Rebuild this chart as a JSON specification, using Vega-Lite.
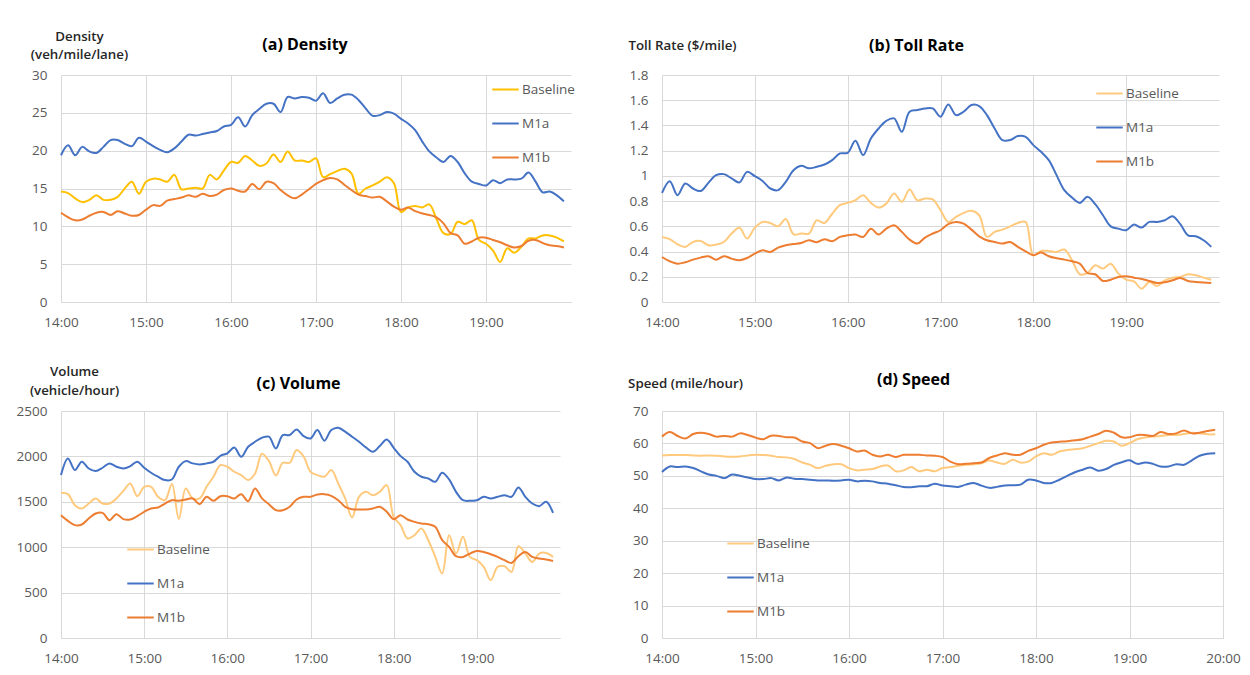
{
"$schema": "https://vega.github.io/schema/vega-lite/v6.json",
"background": "white",
"padding": {"left": 16, "top": 29, "right": 5, "bottom": 5},
"data": {"format": {"parse": {"time": "date:'%H:%M'"}}, "values": [
{"series":"Baseline","time":"14:00","density":14.6,"toll":0.516,"volume":1599,"speed":56.3},
{"series":"Baseline","time":"14:05","density":14.4,"toll":0.498,"volume":1584,"speed":56.4},
{"series":"Baseline","time":"14:10","density":13.7,"toll":0.458,"volume":1463,"speed":56.4},
{"series":"Baseline","time":"14:15","density":13.2,"toll":0.437,"volume":1426,"speed":56.4},
{"series":"Baseline","time":"14:20","density":13.5,"toll":0.476,"volume":1481,"speed":56.3},
{"series":"Baseline","time":"14:25","density":14.1,"toll":0.484,"volume":1537,"speed":56.2},
{"series":"Baseline","time":"14:30","density":13.5,"toll":0.45,"volume":1481,"speed":56.3},
{"series":"Baseline","time":"14:35","density":13.5,"toll":0.455,"volume":1481,"speed":56.2},
{"series":"Baseline","time":"14:40","density":13.9,"toll":0.476,"volume":1537,"speed":56.0},
{"series":"Baseline","time":"14:45","density":15.0,"toll":0.543,"volume":1621,"speed":55.9},
{"series":"Baseline","time":"14:50","density":15.9,"toll":0.588,"volume":1702,"speed":56.0},
{"series":"Baseline","time":"14:55","density":14.3,"toll":0.503,"volume":1562,"speed":56.3},
{"series":"Baseline","time":"15:00","density":15.9,"toll":0.59,"volume":1665,"speed":56.5},
{"series":"Baseline","time":"15:05","density":16.3,"toll":0.635,"volume":1665,"speed":56.4},
{"series":"Baseline","time":"15:10","density":16.2,"toll":0.627,"volume":1555,"speed":56.2},
{"series":"Baseline","time":"15:15","density":15.9,"toll":0.60,"volume":1518,"speed":55.8},
{"series":"Baseline","time":"15:20","density":16.8,"toll":0.659,"volume":1695,"speed":55.7},
{"series":"Baseline","time":"15:25","density":14.9,"toll":0.537,"volume":1310,"speed":55.2},
{"series":"Baseline","time":"15:30","density":15.0,"toll":0.543,"volume":1647,"speed":54.1},
{"series":"Baseline","time":"15:35","density":15.1,"toll":0.543,"volume":1537,"speed":53.4},
{"series":"Baseline","time":"15:40","density":15.0,"toll":0.648,"volume":1537,"speed":52.4},
{"series":"Baseline","time":"15:45","density":16.8,"toll":0.627,"volume":1665,"speed":53.1},
{"series":"Baseline","time":"15:50","density":16.2,"toll":0.70,"volume":1776,"speed":53.6},
{"series":"Baseline","time":"15:55","density":17.4,"toll":0.768,"volume":1904,"speed":53.6},
{"series":"Baseline","time":"16:00","density":18.5,"toll":0.786,"volume":1886,"speed":52.4},
{"series":"Baseline","time":"16:05","density":18.4,"toll":0.807,"volume":1831,"speed":51.7},
{"series":"Baseline","time":"16:10","density":19.3,"toll":0.847,"volume":1794,"speed":51.9},
{"series":"Baseline","time":"16:15","density":18.7,"toll":0.786,"volume":1739,"speed":52.1},
{"series":"Baseline","time":"16:20","density":18.0,"toll":0.749,"volume":1812,"speed":52.9},
{"series":"Baseline","time":"16:25","density":18.3,"toll":0.78,"volume":2030,"speed":53.2},
{"series":"Baseline","time":"16:30","density":19.5,"toll":0.86,"volume":1950,"speed":51.4},
{"series":"Baseline","time":"16:35","density":18.5,"toll":0.794,"volume":1790,"speed":51.7},
{"series":"Baseline","time":"16:40","density":19.9,"toll":0.892,"volume":1930,"speed":52.7},
{"series":"Baseline","time":"16:45","density":18.7,"toll":0.807,"volume":1930,"speed":51.4},
{"series":"Baseline","time":"16:50","density":18.7,"toll":0.82,"volume":2070,"speed":51.9},
{"series":"Baseline","time":"16:55","density":18.5,"toll":0.813,"volume":2000,"speed":51.4},
{"series":"Baseline","time":"17:00","density":19.0,"toll":0.728,"volume":1831,"speed":52.4},
{"series":"Baseline","time":"17:05","density":16.5,"toll":0.635,"volume":1794,"speed":52.7},
{"series":"Baseline","time":"17:10","density":16.9,"toll":0.675,"volume":1776,"speed":53.1},
{"series":"Baseline","time":"17:15","density":17.3,"toll":0.707,"volume":1849,"speed":53.4},
{"series":"Baseline","time":"17:20","density":17.6,"toll":0.723,"volume":1702,"speed":53.6},
{"series":"Baseline","time":"17:25","density":17.0,"toll":0.688,"volume":1537,"speed":53.9},
{"series":"Baseline","time":"17:30","density":14.3,"toll":0.516,"volume":1327,"speed":54.7},
{"series":"Baseline","time":"17:35","density":15.0,"toll":0.556,"volume":1555,"speed":54.1},
{"series":"Baseline","time":"17:40","density":15.4,"toll":0.574,"volume":1610,"speed":53.7},
{"series":"Baseline","time":"17:45","density":15.9,"toll":0.60,"volume":1573,"speed":55.0},
{"series":"Baseline","time":"17:50","density":16.5,"toll":0.627,"volume":1610,"speed":54.1},
{"series":"Baseline","time":"17:55","density":15.7,"toll":0.635,"volume":1684,"speed":54.4},
{"series":"Baseline","time":"18:00","density":11.9,"toll":0.371,"volume":1334,"speed":56.0},
{"series":"Baseline","time":"18:05","density":12.5,"toll":0.405,"volume":1243,"speed":57.0},
{"series":"Baseline","time":"18:10","density":12.7,"toll":0.405,"volume":1096,"speed":56.5},
{"series":"Baseline","time":"18:15","density":12.5,"toll":0.397,"volume":1132,"speed":57.5},
{"series":"Baseline","time":"18:20","density":12.9,"toll":0.416,"volume":1206,"speed":58.0},
{"series":"Baseline","time":"18:25","density":11.0,"toll":0.331,"volume":1077,"speed":58.2},
{"series":"Baseline","time":"18:30","density":9.1,"toll":0.22,"volume":893,"speed":58.5},
{"series":"Baseline","time":"18:35","density":9.0,"toll":0.23,"volume":709,"speed":59.3},
{"series":"Baseline","time":"18:40","density":10.6,"toll":0.291,"volume":1132,"speed":60.1},
{"series":"Baseline","time":"18:45","density":10.3,"toll":0.265,"volume":930,"speed":60.8},
{"series":"Baseline","time":"18:50","density":10.8,"toll":0.304,"volume":1114,"speed":60.6},
{"series":"Baseline","time":"18:55","density":8.2,"toll":0.225,"volume":893,"speed":59.3},
{"series":"Baseline","time":"19:00","density":7.7,"toll":0.177,"volume":857,"speed":60.1},
{"series":"Baseline","time":"19:05","density":6.8,"toll":0.164,"volume":783,"speed":61.3},
{"series":"Baseline","time":"19:10","density":5.3,"toll":0.106,"volume":636,"speed":61.8},
{"series":"Baseline","time":"19:15","density":7.1,"toll":0.159,"volume":783,"speed":62.1},
{"series":"Baseline","time":"19:20","density":6.5,"toll":0.127,"volume":790,"speed":62.3},
{"series":"Baseline","time":"19:25","density":7.3,"toll":0.172,"volume":728,"speed":62.6},
{"series":"Baseline","time":"19:30","density":8.4,"toll":0.193,"volume":1011,"speed":62.6},
{"series":"Baseline","time":"19:35","density":8.4,"toll":0.199,"volume":930,"speed":62.9},
{"series":"Baseline","time":"19:40","density":8.8,"toll":0.22,"volume":838,"speed":63.3},
{"series":"Baseline","time":"19:45","density":8.8,"toll":0.212,"volume":930,"speed":63.1},
{"series":"Baseline","time":"19:50","density":8.5,"toll":0.193,"volume":937,"speed":62.8},
{"series":"Baseline","time":"19:55","density":8.0,"toll":0.177,"volume":893,"speed":62.8},
{"series":"M1a","time":"14:00","density":19.4,"toll":0.866,"volume":1794,"speed":51.2},
{"series":"M1a","time":"14:05","density":20.7,"toll":0.958,"volume":1978,"speed":52.9},
{"series":"M1a","time":"14:10","density":19.4,"toll":0.847,"volume":1849,"speed":52.7},
{"series":"M1a","time":"14:15","density":20.5,"toll":0.94,"volume":1941,"speed":52.9},
{"series":"M1a","time":"14:20","density":19.9,"toll":0.90,"volume":1867,"speed":52.4},
{"series":"M1a","time":"14:25","density":19.7,"toll":0.88,"volume":1838,"speed":51.4},
{"series":"M1a","time":"14:30","density":20.5,"toll":0.945,"volume":1875,"speed":50.4},
{"series":"M1a","time":"14:35","density":21.4,"toll":1.006,"volume":1923,"speed":50.0},
{"series":"M1a","time":"14:40","density":21.4,"toll":1.014,"volume":1886,"speed":49.3},
{"series":"M1a","time":"14:45","density":20.9,"toll":0.98,"volume":1867,"speed":50.4},
{"series":"M1a","time":"14:50","density":20.6,"toll":0.948,"volume":1893,"speed":50.0},
{"series":"M1a","time":"14:55","density":21.7,"toll":1.032,"volume":1941,"speed":49.5},
{"series":"M1a","time":"15:00","density":21.2,"toll":0.998,"volume":1875,"speed":49.0},
{"series":"M1a","time":"15:05","density":20.6,"toll":0.96,"volume":1820,"speed":49.0},
{"series":"M1a","time":"15:10","density":20.1,"toll":0.90,"volume":1776,"speed":49.3},
{"series":"M1a","time":"15:15","density":19.8,"toll":0.887,"volume":1739,"speed":48.6},
{"series":"M1a","time":"15:20","density":20.3,"toll":0.953,"volume":1746,"speed":49.5},
{"series":"M1a","time":"15:25","density":21.2,"toll":1.045,"volume":1886,"speed":49.1},
{"series":"M1a","time":"15:30","density":22.1,"toll":1.08,"volume":1948,"speed":49.0},
{"series":"M1a","time":"15:35","density":22.0,"toll":1.06,"volume":1923,"speed":48.8},
{"series":"M1a","time":"15:40","density":22.2,"toll":1.072,"volume":1911,"speed":48.6},
{"series":"M1a","time":"15:45","density":22.4,"toll":1.09,"volume":1923,"speed":48.6},
{"series":"M1a","time":"15:50","density":22.6,"toll":1.125,"volume":1941,"speed":48.5},
{"series":"M1a","time":"15:55","density":23.2,"toll":1.178,"volume":2007,"speed":48.6},
{"series":"M1a","time":"16:00","density":23.4,"toll":1.183,"volume":2033,"speed":48.8},
{"series":"M1a","time":"16:05","density":24.4,"toll":1.278,"volume":2099,"speed":48.3},
{"series":"M1a","time":"16:10","density":23.2,"toll":1.165,"volume":1996,"speed":48.5},
{"series":"M1a","time":"16:15","density":24.7,"toll":1.297,"volume":2106,"speed":48.3},
{"series":"M1a","time":"16:20","density":25.5,"toll":1.376,"volume":2161,"speed":47.8},
{"series":"M1a","time":"16:25","density":26.2,"toll":1.437,"volume":2206,"speed":47.6},
{"series":"M1a","time":"16:30","density":26.2,"toll":1.456,"volume":2217,"speed":47.1},
{"series":"M1a","time":"16:35","density":25.1,"toll":1.35,"volume":2088,"speed":46.6},
{"series":"M1a","time":"16:40","density":27.1,"toll":1.509,"volume":2235,"speed":46.5},
{"series":"M1a","time":"16:45","density":26.9,"toll":1.522,"volume":2235,"speed":46.8},
{"series":"M1a","time":"16:50","density":27.1,"toll":1.535,"volume":2297,"speed":46.8},
{"series":"M1a","time":"16:55","density":27.0,"toll":1.535,"volume":2224,"speed":47.6},
{"series":"M1a","time":"17:00","density":26.6,"toll":1.469,"volume":2198,"speed":47.0},
{"series":"M1a","time":"17:05","density":27.6,"toll":1.567,"volume":2290,"speed":46.8},
{"series":"M1a","time":"17:10","density":26.3,"toll":1.482,"volume":2173,"speed":46.6},
{"series":"M1a","time":"17:15","density":26.9,"toll":1.509,"volume":2290,"speed":47.3},
{"series":"M1a","time":"17:20","density":27.4,"toll":1.562,"volume":2316,"speed":47.8},
{"series":"M1a","time":"17:25","density":27.4,"toll":1.554,"volume":2272,"speed":47.0},
{"series":"M1a","time":"17:30","density":26.7,"toll":1.482,"volume":2217,"speed":46.3},
{"series":"M1a","time":"17:35","density":25.6,"toll":1.376,"volume":2161,"speed":46.6},
{"series":"M1a","time":"17:40","density":24.6,"toll":1.284,"volume":2099,"speed":47.0},
{"series":"M1a","time":"17:45","density":24.7,"toll":1.284,"volume":2051,"speed":47.1},
{"series":"M1a","time":"17:50","density":25.1,"toll":1.316,"volume":2114,"speed":47.3},
{"series":"M1a","time":"17:55","density":24.9,"toll":1.31,"volume":2187,"speed":48.8},
{"series":"M1a","time":"18:00","density":24.2,"toll":1.244,"volume":2095,"speed":48.6},
{"series":"M1a","time":"18:05","density":23.6,"toll":1.191,"volume":2003,"speed":47.8},
{"series":"M1a","time":"18:10","density":22.7,"toll":1.125,"volume":1941,"speed":47.8},
{"series":"M1a","time":"18:15","density":21.2,"toll":1.006,"volume":1831,"speed":48.8},
{"series":"M1a","time":"18:20","density":19.9,"toll":0.887,"volume":1776,"speed":50.0},
{"series":"M1a","time":"18:25","density":19.1,"toll":0.828,"volume":1757,"speed":51.1},
{"series":"M1a","time":"18:30","density":18.5,"toll":0.786,"volume":1720,"speed":51.9},
{"series":"M1a","time":"18:35","density":19.3,"toll":0.834,"volume":1820,"speed":52.6},
{"series":"M1a","time":"18:40","density":18.5,"toll":0.776,"volume":1746,"speed":51.6},
{"series":"M1a","time":"18:45","density":17.0,"toll":0.688,"volume":1610,"speed":52.1},
{"series":"M1a","time":"18:50","density":15.9,"toll":0.60,"volume":1518,"speed":53.4},
{"series":"M1a","time":"18:55","density":15.6,"toll":0.582,"volume":1511,"speed":54.2},
{"series":"M1a","time":"19:00","density":15.4,"toll":0.569,"volume":1518,"speed":54.8},
{"series":"M1a","time":"19:05","density":16.1,"toll":0.614,"volume":1555,"speed":53.7},
{"series":"M1a","time":"19:10","density":15.7,"toll":0.59,"volume":1537,"speed":54.1},
{"series":"M1a","time":"19:15","density":16.2,"toll":0.635,"volume":1555,"speed":53.7},
{"series":"M1a","time":"19:20","density":16.2,"toll":0.635,"volume":1573,"speed":52.9},
{"series":"M1a","time":"19:25","density":16.3,"toll":0.648,"volume":1555,"speed":52.9},
{"series":"M1a","time":"19:30","density":17.1,"toll":0.68,"volume":1658,"speed":53.6},
{"series":"M1a","time":"19:35","density":15.9,"toll":0.617,"volume":1555,"speed":53.4},
{"series":"M1a","time":"19:40","density":14.5,"toll":0.529,"volume":1481,"speed":54.8},
{"series":"M1a","time":"19:45","density":14.6,"toll":0.521,"volume":1452,"speed":56.2},
{"series":"M1a","time":"19:50","density":14.1,"toll":0.49,"volume":1500,"speed":56.8},
{"series":"M1a","time":"19:55","density":13.3,"toll":0.437,"volume":1378,"speed":57.0},
{"series":"M1b","time":"14:00","density":11.8,"toll":0.357,"volume":1353,"speed":62.1},
{"series":"M1b","time":"14:05","density":11.2,"toll":0.323,"volume":1290,"speed":63.5},
{"series":"M1b","time":"14:10","density":10.8,"toll":0.304,"volume":1243,"speed":62.3},
{"series":"M1b","time":"14:15","density":10.9,"toll":0.315,"volume":1250,"speed":61.5},
{"series":"M1b","time":"14:20","density":11.4,"toll":0.336,"volume":1316,"speed":62.9},
{"series":"M1b","time":"14:25","density":11.8,"toll":0.352,"volume":1371,"speed":63.3},
{"series":"M1b","time":"14:30","density":11.9,"toll":0.363,"volume":1378,"speed":62.9},
{"series":"M1b","time":"14:35","density":11.5,"toll":0.336,"volume":1298,"speed":62.1},
{"series":"M1b","time":"14:40","density":12.0,"toll":0.363,"volume":1364,"speed":62.3},
{"series":"M1b","time":"14:45","density":11.7,"toll":0.344,"volume":1309,"speed":62.1},
{"series":"M1b","time":"14:50","density":11.4,"toll":0.331,"volume":1305,"speed":63.1},
{"series":"M1b","time":"14:55","density":11.5,"toll":0.349,"volume":1342,"speed":62.6},
{"series":"M1b","time":"15:00","density":12.2,"toll":0.384,"volume":1390,"speed":61.8},
{"series":"M1b","time":"15:05","density":12.8,"toll":0.41,"volume":1426,"speed":61.3},
{"series":"M1b","time":"15:10","density":12.7,"toll":0.397,"volume":1437,"speed":62.4},
{"series":"M1b","time":"15:15","density":13.4,"toll":0.431,"volume":1481,"speed":62.3},
{"series":"M1b","time":"15:20","density":13.6,"toll":0.45,"volume":1518,"speed":61.9},
{"series":"M1b","time":"15:25","density":13.8,"toll":0.46,"volume":1511,"speed":61.8},
{"series":"M1b","time":"15:30","density":14.1,"toll":0.468,"volume":1525,"speed":60.6},
{"series":"M1b","time":"15:35","density":13.9,"toll":0.49,"volume":1537,"speed":60.1},
{"series":"M1b","time":"15:40","density":14.3,"toll":0.474,"volume":1474,"speed":58.5},
{"series":"M1b","time":"15:45","density":14.0,"toll":0.498,"volume":1555,"speed":59.3},
{"series":"M1b","time":"15:50","density":14.2,"toll":0.482,"volume":1511,"speed":59.8},
{"series":"M1b","time":"15:55","density":14.8,"toll":0.516,"volume":1562,"speed":59.3},
{"series":"M1b","time":"16:00","density":15.0,"toll":0.529,"volume":1562,"speed":58.5},
{"series":"M1b","time":"16:05","density":14.7,"toll":0.535,"volume":1537,"speed":57.5},
{"series":"M1b","time":"16:10","density":14.6,"toll":0.516,"volume":1584,"speed":57.8},
{"series":"M1b","time":"16:15","density":15.6,"toll":0.58,"volume":1507,"speed":56.5},
{"series":"M1b","time":"16:20","density":14.9,"toll":0.535,"volume":1647,"speed":56.0},
{"series":"M1b","time":"16:25","density":15.9,"toll":0.582,"volume":1537,"speed":56.5},
{"series":"M1b","time":"16:30","density":15.7,"toll":0.609,"volume":1474,"speed":55.8},
{"series":"M1b","time":"16:35","density":14.8,"toll":0.556,"volume":1408,"speed":56.5},
{"series":"M1b","time":"16:40","density":14.1,"toll":0.495,"volume":1408,"speed":56.5},
{"series":"M1b","time":"16:45","density":13.7,"toll":0.463,"volume":1445,"speed":56.5},
{"series":"M1b","time":"16:50","density":14.2,"toll":0.511,"volume":1525,"speed":56.3},
{"series":"M1b","time":"16:55","density":14.9,"toll":0.543,"volume":1555,"speed":56.2},
{"series":"M1b","time":"17:00","density":15.6,"toll":0.569,"volume":1555,"speed":55.8},
{"series":"M1b","time":"17:05","density":16.1,"toll":0.617,"volume":1580,"speed":54.4},
{"series":"M1b","time":"17:10","density":16.4,"toll":0.635,"volume":1584,"speed":53.6},
{"series":"M1b","time":"17:15","density":16.2,"toll":0.622,"volume":1566,"speed":53.7},
{"series":"M1b","time":"17:20","density":15.5,"toll":0.574,"volume":1518,"speed":53.9},
{"series":"M1b","time":"17:25","density":14.8,"toll":0.521,"volume":1445,"speed":54.1},
{"series":"M1b","time":"17:30","density":14.2,"toll":0.49,"volume":1419,"speed":55.5},
{"series":"M1b","time":"17:35","density":14.0,"toll":0.476,"volume":1415,"speed":56.3},
{"series":"M1b","time":"17:40","density":13.8,"toll":0.463,"volume":1415,"speed":57.0},
{"series":"M1b","time":"17:45","density":13.9,"toll":0.476,"volume":1426,"speed":56.5},
{"series":"M1b","time":"17:50","density":13.3,"toll":0.437,"volume":1445,"speed":56.5},
{"series":"M1b","time":"17:55","density":12.6,"toll":0.402,"volume":1390,"speed":57.7},
{"series":"M1b","time":"18:00","density":12.2,"toll":0.371,"volume":1309,"speed":58.5},
{"series":"M1b","time":"18:05","density":12.5,"toll":0.392,"volume":1353,"speed":59.6},
{"series":"M1b","time":"18:10","density":12.0,"toll":0.363,"volume":1305,"speed":60.3},
{"series":"M1b","time":"18:15","density":11.7,"toll":0.347,"volume":1279,"speed":60.5},
{"series":"M1b","time":"18:20","density":11.5,"toll":0.336,"volume":1261,"speed":60.7},
{"series":"M1b","time":"18:25","density":11.2,"toll":0.323,"volume":1253,"speed":61.0},
{"series":"M1b","time":"18:30","density":10.4,"toll":0.304,"volume":1224,"speed":61.3},
{"series":"M1b","time":"18:35","density":9.1,"toll":0.23,"volume":1077,"speed":62.1},
{"series":"M1b","time":"18:40","density":8.8,"toll":0.22,"volume":1004,"speed":62.9},
{"series":"M1b","time":"18:45","density":7.7,"toll":0.167,"volume":901,"speed":63.9},
{"series":"M1b","time":"18:50","density":8.0,"toll":0.177,"volume":893,"speed":63.3},
{"series":"M1b","time":"18:55","density":8.5,"toll":0.199,"volume":930,"speed":61.9},
{"series":"M1b","time":"19:00","density":8.5,"toll":0.204,"volume":959,"speed":61.9},
{"series":"M1b","time":"19:05","density":8.2,"toll":0.193,"volume":948,"speed":62.6},
{"series":"M1b","time":"19:10","density":7.9,"toll":0.183,"volume":923,"speed":62.6},
{"series":"M1b","time":"19:15","density":7.5,"toll":0.167,"volume":893,"speed":62.3},
{"series":"M1b","time":"19:20","density":7.2,"toll":0.151,"volume":857,"speed":63.5},
{"series":"M1b","time":"19:25","density":7.4,"toll":0.156,"volume":827,"speed":62.9},
{"series":"M1b","time":"19:30","density":8.1,"toll":0.172,"volume":901,"speed":63.1},
{"series":"M1b","time":"19:35","density":8.2,"toll":0.191,"volume":948,"speed":64.0},
{"series":"M1b","time":"19:40","density":7.8,"toll":0.167,"volume":893,"speed":63.1},
{"series":"M1b","time":"19:45","density":7.5,"toll":0.159,"volume":875,"speed":63.3},
{"series":"M1b","time":"19:50","density":7.4,"toll":0.154,"volume":864,"speed":63.8},
{"series":"M1b","time":"19:55","density":7.2,"toll":0.151,"volume":849,"speed":64.2}
]},
"columns": 2,
"bounds": "flush",
"spacing": {"row": 109, "column": 91},
"resolve": {"scale": {"color": "independent"}, "legend": {"color": "independent"}},
"concat": [
{
 "width": 510, "height": 227,
 "title": {"text": "(a)  Density", "anchor": "middle", "dx": -11, "dy": 28},
 "mark": {"type": "line", "interpolate": "catmull-rom", "strokeWidth": 2},
 "encoding": {
  "x": {"field": "time", "type": "temporal",
        "scale": {"domain": [{"year": 1900, "month": 1, "date": 1, "hours": 14}, {"year": 1900, "month": 1, "date": 1, "hours": 20}], "nice": false},
        "axis": {"title": null, "format": "%H:%M", "values": [{"year": 1900, "month": 1, "date": 1, "hours": 14}, {"year": 1900, "month": 1, "date": 1, "hours": 15}, {"year": 1900, "month": 1, "date": 1, "hours": 16}, {"year": 1900, "month": 1, "date": 1, "hours": 17}, {"year": 1900, "month": 1, "date": 1, "hours": 18}, {"year": 1900, "month": 1, "date": 1, "hours": 19}]}},
  "y": {"field": "density", "type": "quantitative",
        "scale": {"domain": [0, 30], "nice": false},
        "axis": {"values": [0, 5, 10, 15, 20, 25, 30], "title": ["Density", "(veh/mile/lane)"], "titleAngle": 0, "titleAlign": "center", "titleBaseline": "alphabetic", "titleX": 18, "titleY": -35, "titleLineHeight": 18.5}},
  "color": {"field": "series", "type": "nominal",
        "scale": {"domain": ["Baseline", "M1a", "M1b"], "range": ["#FFC000", "#4472C4", "#ED7D31"]},
        "legend": {"orient": "none", "legendX": 430, "legendY": 0}}
 }
},
{
 "width": 557, "height": 227,
 "title": {"text": "(b) Toll Rate", "anchor": "middle", "dx": -24, "dy": 20},
 "mark": {"type": "line", "interpolate": "catmull-rom", "strokeWidth": 2},
 "encoding": {
  "x": {"field": "time", "type": "temporal",
        "scale": {"domain": [{"year": 1900, "month": 1, "date": 1, "hours": 14}, {"year": 1900, "month": 1, "date": 1, "hours": 20}], "nice": false},
        "axis": {"title": null, "format": "%H:%M", "values": [{"year": 1900, "month": 1, "date": 1, "hours": 14}, {"year": 1900, "month": 1, "date": 1, "hours": 15}, {"year": 1900, "month": 1, "date": 1, "hours": 16}, {"year": 1900, "month": 1, "date": 1, "hours": 17}, {"year": 1900, "month": 1, "date": 1, "hours": 18}, {"year": 1900, "month": 1, "date": 1, "hours": 19}]}},
  "y": {"field": "toll", "type": "quantitative",
        "scale": {"domain": [0, 1.8], "nice": false},
        "axis": {"values": [0, 0.2, 0.4, 0.6, 0.8, 1, 1.2, 1.4, 1.6, 1.8], "format": "~g", "title": "Toll Rate ($/mile)", "titleAngle": 0, "titleAlign": "center", "titleBaseline": "alphabetic", "titleX": 20, "titleY": -26}},
  "color": {"field": "series", "type": "nominal",
        "scale": {"domain": ["Baseline", "M1a", "M1b"], "range": ["#FFCA7E", "#4472C4", "#ED7D31"]},
        "legend": {"orient": "none", "legendX": 433, "legendY": 4}}
 }
},
{
 "width": 499, "height": 227,
 "title": {"text": "(c) Volume", "anchor": "middle", "dx": -12, "dy": 32},
 "mark": {"type": "line", "interpolate": "catmull-rom", "strokeWidth": 2},
 "encoding": {
  "x": {"field": "time", "type": "temporal",
        "scale": {"domain": [{"year": 1900, "month": 1, "date": 1, "hours": 14}, {"year": 1900, "month": 1, "date": 1, "hours": 20}], "nice": false},
        "axis": {"title": null, "format": "%H:%M", "values": [{"year": 1900, "month": 1, "date": 1, "hours": 14}, {"year": 1900, "month": 1, "date": 1, "hours": 15}, {"year": 1900, "month": 1, "date": 1, "hours": 16}, {"year": 1900, "month": 1, "date": 1, "hours": 17}, {"year": 1900, "month": 1, "date": 1, "hours": 18}, {"year": 1900, "month": 1, "date": 1, "hours": 19}]}},
  "y": {"field": "volume", "type": "quantitative",
        "scale": {"domain": [0, 2500], "nice": false},
        "axis": {"values": [0, 500, 1000, 1500, 2000, 2500], "format": "d", "title": ["Volume", "(vehicle/hour)"], "titleAngle": 0, "titleAlign": "center", "titleBaseline": "alphabetic", "titleX": 13, "titleY": -36, "titleLineHeight": 19}},
  "color": {"field": "series", "type": "nominal",
        "scale": {"domain": ["Baseline", "M1a", "M1b"], "range": ["#FFCA7E", "#4472C4", "#ED7D31"]},
        "legend": {"orient": "none", "legendX": 65, "legendY": 124}}
 }
},
{
 "width": 561, "height": 227,
 "title": {"text": "(d) Speed", "anchor": "middle", "dx": -29, "dy": 16},
 "mark": {"type": "line", "interpolate": "catmull-rom", "strokeWidth": 2},
 "encoding": {
  "x": {"field": "time", "type": "temporal",
        "scale": {"domain": [{"year": 1900, "month": 1, "date": 1, "hours": 14}, {"year": 1900, "month": 1, "date": 1, "hours": 20}], "nice": false},
        "axis": {"title": null, "format": "%H:%M", "values": [{"year": 1900, "month": 1, "date": 1, "hours": 14}, {"year": 1900, "month": 1, "date": 1, "hours": 15}, {"year": 1900, "month": 1, "date": 1, "hours": 16}, {"year": 1900, "month": 1, "date": 1, "hours": 17}, {"year": 1900, "month": 1, "date": 1, "hours": 18}, {"year": 1900, "month": 1, "date": 1, "hours": 19}, {"year": 1900, "month": 1, "date": 1, "hours": 20}]}},
  "y": {"field": "speed", "type": "quantitative",
        "scale": {"domain": [0, 70], "nice": false},
        "axis": {"values": [0, 10, 20, 30, 40, 50, 60, 70], "title": "Speed (mile/hour)", "titleAngle": 0, "titleAlign": "center", "titleBaseline": "alphabetic", "titleX": 23, "titleY": -24}},
  "color": {"field": "series", "type": "nominal",
        "scale": {"domain": ["Baseline", "M1a", "M1b"], "range": ["#FFCA7E", "#4472C4", "#ED7D31"]},
        "legend": {"orient": "none", "legendX": 64, "legendY": 118}}
 }
}
],
"config": {
 "font": "Open Sans",
 "view": {"stroke": null},
 "axis": {"labelFont": "Open Sans", "labelFontSize": 13.5, "labelColor": "#595959", "gridColor": "#D9D9D9", "gridWidth": 1, "grid": true, "ticks": false, "domain": false, "titleFont": "Open Sans", "titleFontSize": 13.3, "titleFontWeight": 600, "titleColor": "#262626"},
 "axisX": {"domain": true, "domainColor": "#D9D9D9", "labelPadding": 13, "labelFlush": false},
 "axisY": {"labelPadding": 14},
 "title": {"font": "Open Sans", "fontSize": 16, "fontWeight": "bold", "color": "#000000"},
 "legend": {"title": null, "symbolType": "stroke", "symbolSize": 700, "symbolStrokeWidth": 2, "labelFont": "Open Sans", "labelFontSize": 13.5, "labelColor": "#595959", "rowPadding": 13, "labelOffset": 2, "padding": 0}
}
}
